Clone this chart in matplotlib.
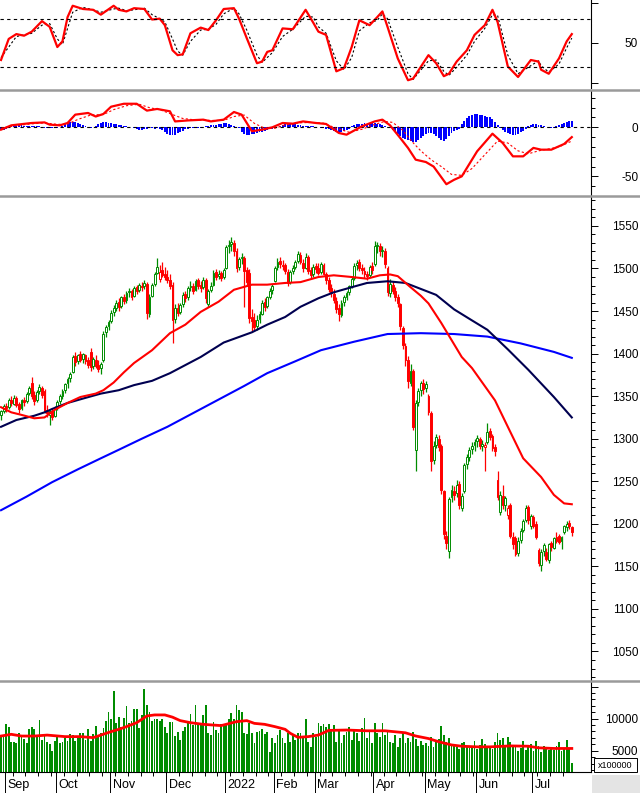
import numpy as np
import matplotlib.pyplot as plt
from matplotlib.lines import Line2D
from matplotlib.patches import Rectangle
from matplotlib.ticker import MultipleLocator, FixedLocator

plt.rcParams['font.family'] = ['Liberation Sans', 'DejaVu Sans']

# ---- daily candles, 30 Aug 2021 .. 22 Jul 2022 (bar index 0..223) ----
opens = [1328,1333,1339,1337,1346,1341,1348,1341,1336,1346,
         1344,1354,1366,1351,1345,1356,1360,1356,1334,1328,
         1333,1327,1337,1344,1350,1357,1365,1371,1378,1397,
         1391,1399,1394,1398,1392,1402,1385,1393,1387,1383,
         1392,1425,1432,1438,1449,1454,1461,1456,1467,1463,
         1472,1474,1468,1478,1475,1480,1479,1482,1447,1468,
         1482,1495,1488,1498,1494,1490,1486,1481,1441,1454,
         1449,1458,1470,1466,1478,1480,1475,1486,1481,1478,
         1487,1458,1475,1481,1496,1491,1495,1490,1500,1526,
         1529,1530,1521,1502,1512,1512,1498,1495,1443,1440,
         1432,1441,1447,1461,1456,1467,1475,1485,1502,1509,
         1504,1504,1496,1484,1497,1502,1509,1516,1507,1501,
         1513,1498,1493,1503,1500,1496,1504,1493,1487,1477,
         1470,1462,1453,1445,1461,1467,1472,1480,1489,1504,
         1508,1501,1497,1493,1492,1503,1505,1527,1527,1520,
         1521,1500,1471,1481,1473,1467,1458,1430,1409,1393,
         1366,1380,1287,1343,1357,1366,1360,1350,1330,1275,
         1293,1300,1292,1238,1186,1168,1232,1238,1236,1247,
         1219,1238,1270,1279,1288,1293,1297,1300,1292,1290,
         1296,1309,1303,1290,1252,1214,1233,1222,1210,1222,
         1185,1183,1166,1181,1193,1205,1220,1198,1208,1200,
         1169,1152,1168,1167,1158,1177,1172,1184,1186,1180,
         1190,1196,1201,1196]
highs = [1334,1341,1342,1348,1350,1351,1350,1343,1347,1349,
         1355,1362,1372,1356,1357,1364,1362,1358,1340,1334,
         1336,1338,1345,1352,1358,1366,1372,1378,1398,1402,
         1400,1403,1401,1400,1396,1406,1396,1398,1392,1390,
         1426,1434,1440,1451,1457,1463,1465,1468,1470,1473,
         1477,1476,1479,1481,1483,1484,1486,1484,1470,1483,
         1496,1512,1504,1508,1502,1498,1493,1484,1458,1460,
         1460,1472,1474,1480,1485,1483,1488,1489,1485,1490,
         1489,1476,1484,1498,1499,1498,1497,1500,1528,1533,
         1537,1534,1524,1514,1518,1515,1502,1499,1452,1448,
         1445,1450,1463,1465,1468,1477,1482,1503,1512,1513,
         1510,1507,1499,1498,1504,1510,1520,1519,1511,1518,
         1516,1502,1505,1507,1506,1508,1507,1496,1490,1482,
         1476,1466,1458,1463,1469,1474,1481,1490,1506,1510,
         1511,1505,1502,1497,1504,1508,1532,1531,1530,1526,
         1524,1503,1488,1485,1478,1470,1460,1433,1412,1397,
         1388,1382,1345,1360,1368,1370,1368,1353,1333,1297,
         1306,1304,1294,1240,1192,1232,1246,1244,1251,1250,
         1236,1272,1282,1290,1296,1300,1304,1302,1298,1296,
         1318,1313,1306,1294,1262,1238,1246,1233,1222,1224,
         1190,1186,1184,1195,1206,1222,1222,1212,1210,1203,
         1172,1170,1178,1172,1178,1180,1185,1190,1188,1186,
         1199,1203,1204,1198]
lows = [1322,1330,1331,1335,1339,1340,1337,1330,1334,1339,
        1342,1351,1347,1340,1343,1352,1348,1330,1325,1316,
        1322,1325,1334,1341,1347,1354,1360,1367,1377,1385,
        1388,1390,1389,1388,1383,1380,1382,1383,1378,1376,
        1390,1420,1428,1436,1444,1450,1450,1453,1458,1460,
        1466,1463,1466,1470,1472,1474,1476,1441,1443,1466,
        1480,1493,1484,1490,1486,1483,1476,1412,1436,1444,
        1446,1455,1461,1463,1473,1470,1473,1476,1472,1476,
        1460,1455,1472,1479,1486,1488,1485,1488,1499,1518,
        1521,1515,1496,1498,1505,1455,1480,1436,1425,1426,
        1428,1436,1445,1450,1453,1464,1470,1484,1498,1501,
        1498,1494,1480,1482,1493,1499,1506,1505,1496,1499,
        1494,1488,1490,1495,1492,1494,1492,1482,1472,1466,
        1460,1448,1438,1443,1456,1463,1469,1477,1487,1498,
        1497,1493,1489,1486,1490,1494,1503,1518,1515,1514,
        1500,1468,1466,1470,1462,1455,1428,1405,1385,1360,
        1362,1310,1262,1338,1350,1352,1355,1328,1262,1270,
        1289,1285,1235,1182,1170,1160,1226,1228,1232,1218,
        1215,1236,1265,1274,1282,1286,1290,1288,1285,1262,
        1294,1298,1286,1280,1228,1210,1218,1215,1206,1183,
        1170,1162,1162,1178,1190,1202,1200,1194,1195,1182,
        1150,1145,1162,1156,1154,1168,1170,1178,1176,1170,
        1188,1192,1194,1186]
closes = [1332,1338,1336,1345,1342,1348,1340,1335,1345,1343,
          1353,1360,1350,1344,1355,1361,1351,1333,1330,1332,
          1326,1336,1343,1350,1356,1364,1370,1376,1396,1390,
          1398,1393,1399,1391,1387,1384,1394,1386,1382,1388,
          1423,1431,1437,1448,1453,1460,1455,1466,1462,1471,
          1473,1467,1477,1474,1481,1478,1483,1448,1466,1481,
          1493,1502,1496,1492,1490,1487,1480,1440,1453,1448,
          1457,1469,1465,1477,1479,1474,1485,1480,1477,1486,
          1465,1474,1480,1495,1490,1494,1489,1498,1525,1528,
          1531,1520,1500,1511,1513,1497,1484,1442,1438,1431,
          1440,1446,1460,1455,1466,1474,1479,1501,1508,1505,
          1503,1497,1483,1496,1501,1508,1517,1508,1500,1514,
          1497,1492,1502,1499,1495,1505,1494,1486,1476,1471,
          1463,1452,1446,1460,1466,1471,1479,1488,1503,1507,
          1500,1498,1494,1491,1502,1498,1526,1528,1521,1522,
          1505,1472,1482,1474,1466,1460,1432,1410,1392,1368,
          1380,1314,1342,1356,1365,1358,1364,1331,1274,1292,
          1302,1290,1240,1188,1178,1229,1240,1234,1246,1222,
          1233,1269,1278,1287,1292,1296,1301,1291,1294,1293,
          1308,1302,1289,1286,1232,1234,1222,1230,1219,1186,
          1176,1165,1180,1192,1203,1219,1204,1209,1198,1185,
          1154,1167,1175,1159,1176,1173,1183,1180,1179,1184,
          1197,1200,1197,1190]

# volume (units of 100000 shares)
volume = [7200,7200,9170,8760,6420,6420,6150,7820,7450,6780,
          6150,8390,8760,8390,7450,9800,6670,7450,6420,6050,
          4950,6510,7450,6260,6420,6940,6570,7610,7450,6570,
          7200,7820,7720,6670,8390,6570,7610,8870,7450,7720,
          8500,9650,11000,9950,14330,9280,10220,8760,10060,11990,
          9280,9700,11520,11520,8500,10590,14640,12150,11100,9700,
          9900,9900,9700,9900,8650,7820,9540,9540,7290,7980,
          6670,8140,8760,9280,10730,9010,12150,9380,9380,10590,
          12150,7720,7450,9540,8230,7720,9120,9010,9010,9900,
          10840,9900,12150,11370,11000,7720,7560,9280,7720,6150,
          7980,8140,8340,7610,7980,4860,6940,6150,7450,8230,
          6940,6260,7720,6310,7610,6670,7720,7820,6940,9900,
          6420,5650,7720,7200,9280,8870,9120,8760,9170,8230,
          9010,6420,8140,6150,7450,7980,8760,6670,8230,7720,
          6570,8500,10060,6940,7980,6150,9280,7720,7200,9280,
          7450,8230,6420,6150,7450,5640,6940,7720,6260,6940,
          6400,7900,6900,5800,6500,5900,6200,5800,7100,5500,
          6400,6900,8900,7400,6300,7000,6100,5800,5600,5300,
          6200,6300,5800,5400,5500,6500,5200,5900,6900,6000,
          5400,5600,5200,6300,7800,6700,7000,5600,7200,6300,
          5800,5500,4900,5400,6500,5100,5900,6100,4900,6500,
          5700,4800,5800,5400,5100,5500,5100,5700,6300,5000,
          5400,6700,5200,3100]

# moving averages (bar index, value)
ma_red_idx = [0, 4, 8, 13, 17, 21, 26, 31, 37, 40, 44, 48, 52, 59, 66, 72, 78, 85, 91, 98,
              104, 111, 117, 124, 130, 137, 143, 148, 152, 155, 160, 164, 167, 172, 176, 180,
              184, 193, 198, 204, 211, 216, 220, 223]
ma_red = [1337, 1331, 1328, 1324, 1325, 1334, 1342, 1349, 1353, 1357, 1366, 1378, 1389, 1404,
          1424, 1434, 1449, 1461, 1475, 1481, 1481, 1483, 1484, 1490, 1492, 1490, 1488, 1492,
          1493, 1491, 1478, 1468, 1459, 1436, 1416, 1396, 1383, 1345, 1314, 1277, 1255, 1234,
          1224, 1223]
ma_navy_idx = [0, 6, 13, 17, 20, 26, 33, 39, 46, 52, 59, 66, 78, 87, 98, 104, 111, 117, 124,
               130, 137, 143, 151, 158, 164, 170, 177, 184, 190, 198, 206, 216, 223]
ma_navy = [1314, 1322, 1327, 1331, 1335, 1342, 1348, 1353, 1357, 1363, 1368, 1377, 1396, 1413,
           1425, 1434, 1443, 1455, 1465, 1472, 1478, 1483, 1485, 1483, 1476, 1469, 1452, 1439,
           1428, 1405, 1381, 1349, 1325]
ma_blue_idx = [0, 10, 20, 30, 39, 46, 55, 65, 75, 85, 95, 104, 115, 125, 138, 151, 164, 177,
               190, 203, 216, 223]
ma_blue = [1216, 1232, 1249, 1264, 1277, 1287, 1300, 1314, 1330, 1346, 1362, 1377, 1391, 1404,
           1414, 1423, 1424, 1423, 1420, 1412, 1402, 1395]

vol_ma_idx = [0, 4, 8, 13, 18, 25, 31, 36, 39, 43, 46, 49, 53, 57, 60, 64, 67, 70, 74, 79, 86,
              92, 96, 99, 103, 107, 111, 113, 116, 120, 124, 128, 135, 143, 150, 158, 162, 167,
              171, 176, 180, 186, 191, 199, 206, 210, 216, 223]
vol_ma = [7290, 7560, 7290, 7290, 7440, 7200, 7200, 7040, 7440, 7980, 8340, 8760, 9380, 10430,
          10590, 10590, 10240, 9700, 9380, 9120, 8920, 9540, 9700, 9270, 9120, 8760, 8340,
          7720, 7090, 7200, 7440, 8170, 8230, 8110, 8110, 7800, 7300, 6900, 6400, 5900, 5700,
          5600, 5600, 5750, 5700, 5450, 5350, 5350]

# stochastic
st_idx = [0, 3, 6, 9, 12, 16, 19, 22, 24, 26, 28, 32, 36, 39, 44, 46, 49, 52, 56, 59, 62, 64,
          67, 69, 71, 74, 78, 81, 84, 87, 91, 93, 96, 100, 102, 104, 106, 110, 114, 119, 122,
          124, 127, 131, 134, 137, 140, 144, 147, 149, 151, 155, 159, 161, 167, 170, 173, 175,
          178, 182, 185, 189, 192, 194, 198, 202, 207, 210, 211, 214, 218, 221, 223]
st_k = [29, 55, 61, 59, 64, 77, 70, 45, 52, 82, 96, 92, 91, 85, 96, 91, 89, 93, 92, 79, 80, 72,
        41, 35, 36, 62, 69, 66, 78, 92, 93, 80, 56, 25, 27, 39, 41, 68, 67, 91, 75,
        64, 60, 15, 19, 45, 78, 72, 82, 89, 70, 31, 4, 6, 35, 25, 9, 12,
        27, 41, 60, 72, 91, 76, 21, 8, 29, 27, 17, 12, 31, 52, 61]
st_d = [32, 45, 58, 60, 62, 72, 74, 55, 48, 68, 88, 94, 91, 88, 92, 93, 90, 91, 93, 85, 80, 76,
        55, 40, 35, 52, 66, 67, 73, 86, 93, 86, 66, 35, 26, 32, 38, 58, 67, 83, 82,
        70, 62, 28, 17, 32, 65, 75, 78, 86, 80, 45, 12, 5, 28, 29, 15, 10,
        20, 35, 52, 68, 85, 84, 35, 12, 22, 28, 22, 14, 24, 44, 56]

# MACD
macd_idx = [0, 4, 12, 17, 19, 23, 26, 29, 34, 37, 40, 43, 48, 53, 57, 61, 66, 68, 73, 79, 82,
            87, 91, 94, 98, 102, 106, 110, 114, 118, 123, 127, 132, 135, 141, 146, 149, 152,
            156, 159, 162, 166, 169, 174, 177, 180, 186, 192, 196, 200, 204, 208, 211, 215,
            220, 223]
macd = [-2.4, 2, 4.4, 5, 2.7, 2, 4.4, 12.9, 14.6, 11, 13.6, 21, 24, 24, 17, 18.7, 16.3, 6, 7,
        7.8, 6, 7.8, 15.6, 12.9, -4, -2.4, 0, 4.4, 3.7, 6, 4.4, 3.4, -5.8, -7.5, 1, 6, 7.8, 2,
        -11, -21, -33, -35.4, -40, -58, -53.5, -50, -24.5, -6.5, -16, -29.6, -29.6, -21,
        -22.8, -22.8, -17, -10]
sig_idx = [0, 5, 12, 17, 22, 26, 30, 35, 40, 44, 49, 54, 58, 62, 67, 71, 76, 82, 87, 91, 95,
           99, 103, 107, 111, 116, 121, 126, 131, 136, 141, 146, 150, 153, 157, 160, 164, 168,
           172, 176, 180, 184, 189, 194, 198, 202, 206, 210, 214, 218, 223]
signal = [-1, 1.5, 3.5, 4.5, 3, 3.3, 8, 12.5, 13, 18, 22, 23.5, 20, 18, 13, 9, 7.5, 7, 7, 11,
          12.5, 4, -1, -1, 2.5, 4.5, 5, 4.2, -1, -5, -2, 3, 6, 5, -3, -13, -24, -33, -40, -48,
          -49, -42, -28, -14, -16, -24, -27, -24, -22, -20, -14]
hist = [-2, -2.5, -1.5,
        0.8, 1.2, 1.5, 1.8, 2, 2, 1.8, 1.6, 1.5, 1.7, 1.8, 1.5, 1.2, 0.8,
        -0.5, -1, -1.2, -1, -0.8, -0.5, -0.2,
        1.5, 3, 4.5, 5.2, 5.4, 5, 4, 3, 2.5, 1.5,
        0.5, -0.3, 0.5, 1.5,
        3, 4.5, 5, 5.2, 4.8, 4.5, 3.5, 3, 2.5,
        2, 1.5, 1, 0.5, 0,
        -1, -2, -3, -3, -2, -1.5,
        -0.8, -1, -1.5, -1.2, -2,
        -3, -5, -7, -8, -8, -7.5, -6, -5, -3.5, -2,
        -1.5, -1, -1, -0.8, -0.5, -0.5, 0.5,
        1, 1.5, 2, 2, 2.5, 3, 3.5, 4, 4.2, 3, 2,
        1, 0, -1,
        -5, -7, -8, -7.5, -7, -6.5, -6, -5, -4.5, -3.5, -2.5,
        -2, -1.5, -1, 0, 1,
        2, 3, 3.5, 4, 3.5, 3, 2.5, 2, 1.5,
        1, 1.5, 1, 1.2, 0.5, 0, -0.5, -1,
        -1.5, -2, -3, -4, -5, -5.5, -5, -4, -3, -1.5,
        1, 2, 3, 3.5, 3.8, 4, 3.5, 3.8, 4, 4, 3.5, 3, 2.5, 1.5,
        0, -1,
        -3, -5, -7, -9, -11, -12, -13, -14, -15, -14.5, -13, -11, -9, -7,
        -6, -5.5, -7, -9, -11, -13, -14, -12, -9, -6, -4, -3, -1.5,
        3, 6, 9, 12, 13, 13.5, 13.5, 13, 12.5, 12, 11, 10, 8, 5, 2,
        -1, -3, -5, -6, -7, -8, -8, -7, -5, -3.5, -2,
        1.5, 2.5, 3, 3, 2.5, 2, 1, 0.5,
        -0.5, -1, -0.5,
        1.5, 2.5, 3, 4, 5, 6, 6]

month_idx = [2, 22, 43, 65, 88, 107, 123, 146, 166, 186, 208]
month_lbl = ['Sep', 'Oct', 'Nov', 'Dec', '2022', 'Feb', 'Mar', 'Apr', 'May', 'Jun', 'Jul']

GREEN = '#008c00'
RED = '#ff0000'
NAVY = '#000050'
BLUE = '#0000ff'

W, H = 640, 793
fig = plt.figure(figsize=(6.4, 7.93), dpi=100)
fig.patch.set_facecolor('white')


def panel(top, bottom):
    ax = fig.add_axes([0, 1 - bottom / H, 591 / W, (bottom - top) / H])
    for s in ('top', 'left', 'bottom'):
        ax.spines[s].set_visible(False)
    ax.spines['right'].set_linewidth(0.8)
    ax.yaxis.tick_right()
    ax.tick_params(axis='y', which='major', length=5, width=0.7, pad=29, labelsize=8.5)
    ax.tick_params(axis='y', which='minor', length=3, width=0.7)
    ax.tick_params(axis='x', which='both', bottom=False, labelbottom=False)
    ax.set_xlim(-0.4, 230.5)
    return ax


ax_st = panel(0, 88)
ax_md = panel(91, 195)
ax_pr = panel(197, 680)
ax_vo = panel(682, 772)

x = np.arange(len(closes))
o, h, l, c = (np.array(v, dtype=float) for v in (opens, highs, lows, closes))

# stochastic
ax_st.plot(st_idx, st_d, color='black', lw=0.8, ls=(0, (2, 2)))
ax_st.plot(st_idx, st_k, color=RED, lw=1.6)
for lev in (80, 20):
    ax_st.axhline(lev, color='black', lw=0.8, ls=(0, (3, 3)))
ax_st.set_ylim(-5.6, 103.1)
ax_st.set_yticks([0, 50, 100])
ax_st.set_yticklabels(['', '50', ''])

# MACD
ax_md.bar(x, hist, width=0.75, color=BLUE)
ax_md.axhline(0, color='black', lw=0.8, ls=(0, (3, 3)))
ax_md.plot(sig_idx, signal, color=RED, lw=0.8, ls=(0, (2, 2)))
ax_md.plot(macd_idx, macd, color=RED, lw=1.6)
ax_md.set_ylim(-69, 37)
ax_md.set_yticks([0, -50])
ax_md.set_yticklabels(['0', '-50'])
ax_md.yaxis.set_minor_locator(MultipleLocator(10))

# price candles
prev = np.r_[o[0], c[:-1]]
col = np.where(c >= prev, GREEN, RED)
filled = c < o
ax_pr.vlines(x, l, h, colors=col, lw=0.9, zorder=2)
body_lo = np.minimum(o, c)
body_h = np.maximum(np.abs(c - o), 0.8)
face = [cc if f else 'white' for cc, f in zip(col, filled)]
ax_pr.bar(x, body_h, bottom=body_lo, width=0.72, color=face, edgecolor=col,
          linewidth=0.7, zorder=3)
ax_pr.plot(ma_blue_idx, ma_blue, color=BLUE, lw=1.5, zorder=4)
ax_pr.plot(ma_navy_idx, ma_navy, color=NAVY, lw=1.5, zorder=4)
ax_pr.plot(ma_red_idx, ma_red, color=RED, lw=1.5, zorder=4)
ax_pr.set_ylim(1016.5, 1584)
ax_pr.yaxis.set_major_locator(MultipleLocator(50))
ax_pr.yaxis.set_minor_locator(MultipleLocator(10))

# volume
ax_vo.bar(x, volume, width=0.7, color=GREEN)
ax_vo.plot(vol_ma_idx, vol_ma, color=RED, lw=2)
ax_vo.set_ylim(1672, 15734)
ax_vo.set_yticks([5000, 10000, 15000])
ax_vo.set_yticklabels(['5000', '10000', ''])
ax_vo.yaxis.set_minor_locator(MultipleLocator(1000))
ax_vo.spines['bottom'].set_visible(True)
ax_vo.spines['bottom'].set_linewidth(0.8)
ax_vo.set_xticks([m - 0.5 for m in month_idx])
ax_vo.xaxis.set_minor_locator(FixedLocator(np.arange(0, 224, 5) - 0.5))
ax_vo.tick_params(axis='x', which='major', bottom=True, length=15, width=0.7, direction='out')
ax_vo.tick_params(axis='x', which='minor', bottom=True, length=3, width=0.7, direction='out')
for m, lab in zip(month_idx, month_lbl):
    ax_vo.text(m + 0.6, -0.145, lab, transform=ax_vo.get_xaxis_transform(),
               ha='left', va='center', fontsize=9)

for ax in (ax_st, ax_md, ax_pr, ax_vo):
    plt.setp(ax.get_yticklabels(), ha='right')

# panel separators
for ypx in (89.5, 195.8, 681):
    fig.add_artist(Line2D([0, 1], [1 - ypx / H] * 2, transform=fig.transFigure,
                          color='#9a9a9a', lw=1.8))

# bottom-right scale box
fig.add_artist(Rectangle((592 / W, 0), 48 / W, 18 / H, transform=fig.transFigure,
                         facecolor='#e4e4e4', edgecolor='none'))
fig.add_artist(Rectangle((594 / W, 1 - 772 / H), 43 / W, 14 / H, transform=fig.transFigure,
                         facecolor='white', edgecolor='black', lw=0.7))
fig.text(615.5 / W, 1 - 765 / H, 'x100000', ha='center', va='center', fontsize=6.5)

fig.savefig('out.png', dpi=100)
